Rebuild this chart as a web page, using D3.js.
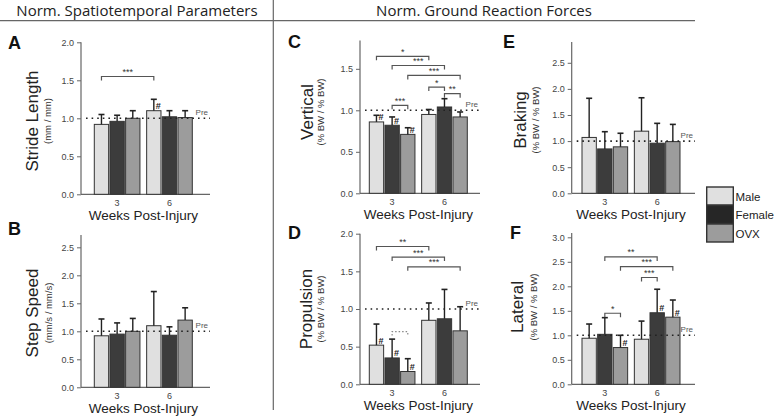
<!DOCTYPE html>
<html><head><meta charset="utf-8">
<script src="https://cdn.jsdelivr.net/npm/d3@7"></script>
<style>body{margin:0;background:#fff}svg{display:block}</style>
</head><body>
<svg id="chart" width="775" height="418"></svg>
<script>
// ---------- data ----------
const weeks = ["3", "6"];
const groupsNames = ["Male", "Female", "OVX"];
// order: Male3, Female3, OVX3, Male6, Female6, OVX6
const strideMean = [0.92, 0.96, 1.00, 1.10, 1.02, 1.01];
const strideSD   = [0.13, 0.08, 0.10, 0.15, 0.08, 0.09];
const strideHash = [0, 0, 0, 1, 0, 0];
const strideSig  = [{a:0, b:3, y:1.55, t:"***"}];

const speedMean = [0.92, 0.95, 1.00, 1.10, 0.93, 1.20];
const speedSD   = [0.30, 0.20, 0.23, 0.61, 0.15, 0.22];
const speedHash = [0, 0, 0, 0, 0, 0];
const speedSig  = [];

const vertMean = [0.86, 0.82, 0.71, 0.95, 1.04, 0.92];
const vertSD   = [0.08, 0.10, 0.08, 0.06, 0.10, 0.06];
const vertHash = [1, 1, 1, 0, 0, 0];
const vertSig  = [
  {a:0, b:3, y:1.65, t:"*"}, {a:1, b:4, y:1.54, t:"***"}, {a:2, b:5, y:1.42, t:"***"},
  {a:3, b:4, y:1.28, t:"*"}, {a:4, b:5, y:1.20, t:"**"}, {a:1, b:2, y:1.06, t:"***"}];

const propMean = [0.52, 0.35, 0.17, 0.85, 0.87, 0.71];
const propSD   = [0.28, 0.25, 0.17, 0.23, 0.39, 0.32];
const propHash = [1, 1, 1, 0, 0, 0];
const propSig  = [
  {a:0, b:3, y:1.83, t:"**"}, {a:1, b:4, y:1.69, t:"***"}, {a:2, b:5, y:1.56, t:"***"},
  {a:1, b:2, y:0.70, t:"", dotted:true}];

const brakeMean = [1.07, 0.85, 0.89, 1.19, 0.96, 0.99];
const brakeSD   = [0.75, 0.33, 0.26, 0.64, 0.38, 0.33];
const brakeHash = [0, 0, 0, 0, 0, 0];
const brakeSig  = [];

const latMean = [0.94, 1.02, 0.75, 0.92, 1.46, 1.37];
const latSD   = [0.29, 0.34, 0.25, 0.37, 0.48, 0.35];
const latHash = [0, 0, 1, 0, 1, 1];
const latSig  = [
  {a:1, b:4, y:2.60, t:"**"}, {a:2, b:5, y:2.40, t:"***"}, {a:3, b:4, y:2.18, t:"***"},
  {a:1, b:2, y:1.45, t:"*"}];

const ticksA = [0, 0.5, 1.0, 1.5, 2.0];
const ticksB = [0, 0.5, 1.0, 1.5, 2.0, 2.5];
const ticksC = [0, 0.5, 1.0, 1.5];
const ticksD = [0, 0.5, 1.0, 1.5, 2.0];
const ticksE = [0, 0.5, 1.0, 1.5, 2.0, 2.5];
const ticksF = [0, 0.5, 1.0, 1.5, 2.0, 2.5, 3.0];

const headers = ["Norm. Spatiotemporal Parameters", "Norm. Ground Reaction Forces"];
const xTitle = "Weeks Post-Injury";
const refLabel = "Pre";

// ---------- style / layout ----------
const fills = {Male:"#e0e0e0", Female:"#3c3c3c", OVX:"#9c9c9c"};
const legendFills = {Male:"#e0e0e0", Female:"#262626", OVX:"#9c9c9c"};
const FONT = "'Liberation Sans', Arial, sans-serif";

const panels = [
  {L:"A", title:"Stride Length", unit:"(mm  /  mm)", mean:strideMean, sd:strideSD, hash:strideHash, sig:strideSig, ticks:ticksA,
   yMax:2.0, bottom:194.3, top:42.3, ax:81, axEnd:210, barX:94.3, tX:38, uX:51, tY:121, lx:8, ly:49},
  {L:"B", title:"Step Speed", unit:"(mm/s  /  mm/s)", mean:speedMean, sd:speedSD, hash:speedHash, sig:speedSig, ticks:ticksB,
   yMax:2.72, bottom:387.3, top:235, ax:81, axEnd:210, barX:94.3, tX:38, uX:52, tY:313, lx:8, ly:235},
  {L:"C", title:"Vertical", unit:"(% BW  /  % BW)", mean:vertMean, sd:vertSD, hash:vertHash, sig:vertSig, ticks:ticksC,
   yMax:1.84, bottom:193.3, top:40.6, ax:360, axEnd:480, barX:369.3, tX:313, uX:324, tY:112, lx:288, ly:48},
  {L:"D", title:"Propulsion", unit:"(% BW  /  % BW)", mean:propMean, sd:propSD, hash:propHash, sig:propSig, ticks:ticksD,
   yMax:2.0, bottom:384.3, top:233.7, ax:360, axEnd:480, barX:369.3, tX:312, uX:324, tY:309, lx:288, ly:239},
  {L:"E", title:"Braking", unit:"(% BW  /  % BW)", mean:brakeMean, sd:brakeSD, hash:brakeHash, sig:brakeSig, ticks:ticksE,
   yMax:2.9, bottom:193.3, top:41.9, ax:571.7, axEnd:695, barX:582, tX:526, uX:539, tY:120, lx:503, ly:48},
  {L:"F", title:"Lateral", unit:"(% BW  /  % BW)", mean:latMean, sd:latSD, hash:latHash, sig:latSig, ticks:ticksF,
   yMax:3.09, bottom:384.3, top:232.9, ax:571.7, axEnd:695, barX:582, tX:523, uX:537, tY:307, lx:510, ly:239}
];

const svg = d3.select("#chart");

// headers and frame lines
svg.append("line").attr("x1", 0).attr("x2", 695).attr("y1", 20.7).attr("y2", 20.7)
  .attr("stroke", "#666").attr("stroke-width", 1.2);
svg.append("line").attr("x1", 273.3).attr("x2", 273.3).attr("y1", 0).attr("y2", 410)
  .attr("stroke", "#666").attr("stroke-width", 1.2);
svg.append("text").attr("x", 137).attr("y", 15.5).attr("text-anchor", "middle")
  .style("font-family", "'Open Sans', sans-serif").style("font-size", "15px").attr("fill", "#222").text(headers[0]);
svg.append("text").attr("x", 484).attr("y", 15.5).attr("text-anchor", "middle")
  .style("font-family", "'Open Sans', sans-serif").style("font-size", "15px").attr("fill", "#222").text(headers[1]);

panels.forEach(p => {
  const g = svg.append("g");
  const y = d3.scaleLinear().domain([0, p.yMax]).range([p.bottom, p.top]);
  const x0 = d3.scaleBand().domain(weeks).range([p.barX, p.barX + 98]).paddingInner(0.128).paddingOuter(0);
  const x1 = d3.scaleBand().domain(groupsNames).range([0, x0.bandwidth()]).paddingInner(0.085).paddingOuter(0);
  const rows = p.mean.map((m, i) => ({w: weeks[Math.floor(i / 3)], s: groupsNames[i % 3], m, sd: p.sd[i], h: p.hash[i]}));
  const cx = i => x0(rows[i].w) + x1(rows[i].s) + x1.bandwidth() / 2;

  // y axis
  const yAxis = d3.axisLeft(y).tickValues(p.ticks).tickFormat(d3.format(".1f")).tickSize(4).tickPadding(3);
  const ya = g.append("g").attr("transform", `translate(${p.ax},0)`).call(yAxis);
  ya.select(".domain").remove();
  ya.selectAll(".tick line").attr("stroke", "#666");
  ya.selectAll(".tick text").attr("fill", "#444").style("font-family", FONT).style("font-size", "9px");
  g.append("line").attr("x1", p.ax).attr("x2", p.ax).attr("y1", y(p.yMax)).attr("y2", p.bottom)
    .attr("stroke", "#666").attr("stroke-width", 1.2);

  // x axis
  const xAxis = d3.axisBottom(x0).tickSize(0).tickPadding(5);
  const xa = g.append("g").attr("transform", `translate(0,${p.bottom})`).call(xAxis);
  xa.select(".domain").remove();
  xa.selectAll(".tick text").attr("fill", "#444").style("font-family", FONT).style("font-size", "9px");
  g.append("line").attr("x1", p.ax).attr("x2", p.axEnd).attr("y1", p.bottom).attr("y2", p.bottom)
    .attr("stroke", "#666").attr("stroke-width", 1.2);
  g.append("text").attr("x", p.barX + 49).attr("y", p.bottom + 25.5).attr("text-anchor", "middle")
    .style("font-family", FONT).style("font-size", "13.5px").attr("fill", "#222").text(xTitle);

  // bars
  g.selectAll("rect.bar").data(rows).join("rect").attr("class", "bar")
    .attr("x", d => x0(d.w) + x1(d.s)).attr("width", x1.bandwidth())
    .attr("y", d => y(d.m)).attr("height", d => p.bottom - y(d.m))
    .attr("fill", d => fills[d.s]).attr("stroke", "#333").attr("stroke-width", 1);

  rows.forEach((d, i) => {
    const c = cx(i);
    g.append("line").attr("x1", c).attr("x2", c).attr("y1", y(d.m)).attr("y2", y(d.m + d.sd))
      .attr("stroke", "#222").attr("stroke-width", 1.4);
    g.append("line").attr("x1", c - 3).attr("x2", c + 3).attr("y1", y(d.m + d.sd)).attr("y2", y(d.m + d.sd))
      .attr("stroke", "#222").attr("stroke-width", 1.6);
    if (d.h) {
      g.append("text").attr("x", c + 2).attr("y", y(d.m) - 1.5)
        .style("font-family", FONT).style("font-size", "9px").style("font-weight", "bold").attr("fill", "#222").text("#");
    }
  });

  // reference line
  g.append("line").attr("x1", p.ax + 5).attr("x2", p.axEnd).attr("y1", y(1)).attr("y2", y(1))
    .attr("stroke", "#222").attr("stroke-width", 1.6).attr("stroke-dasharray", "1.6,4");
  g.append("text").attr("x", p.axEnd - 2).attr("y", y(1) - 3.5).attr("text-anchor", "end")
    .style("font-family", FONT).style("font-size", "8px").attr("fill", "#555").text(refLabel);

  // significance brackets
  p.sig.forEach(s => {
    const xa_ = cx(s.a), xb = cx(s.b), yy = y(s.y);
    g.append("path").attr("d", `M${xa_},${yy + 4}V${yy}H${xb}V${yy + 4}`)
      .attr("fill", "none").attr("stroke", s.dotted ? "#888" : "#555").attr("stroke-width", 1.2)
      .attr("stroke-dasharray", s.dotted ? "1.5,2" : null);
    if (s.t) g.append("text").attr("x", (xa_ + xb) / 2).attr("y", yy - 1.5).attr("text-anchor", "middle")
      .style("font-family", FONT).style("font-size", "9px").attr("fill", "#333").text(s.t);
  });

  // titles
  g.append("text").attr("transform", `translate(${p.tX},${p.tY}) rotate(-90)`).attr("text-anchor", "middle")
    .style("font-family", FONT).style("font-size", "17px").attr("fill", "#222").text(p.title);
  g.append("text").attr("transform", `translate(${p.uX},${p.tY}) rotate(-90)`).attr("text-anchor", "middle")
    .style("font-family", FONT).style("font-size", "9.5px").attr("fill", "#333").text(p.unit);
  g.append("text").attr("x", p.lx).attr("y", p.ly)
    .style("font-family", FONT).style("font-size", "18px").style("font-weight", "bold").attr("fill", "#111").text(p.L);
});

// legend
const legY = [187, 205.5, 224];
groupsNames.forEach((n, i) => {
  svg.append("rect").attr("x", 706.7).attr("y", legY[i]).attr("width", 26.6).attr("height", 18)
    .attr("fill", legendFills[n]).attr("stroke", "#333").attr("stroke-width", 1.4);
  svg.append("text").attr("x", 735.5).attr("y", legY[i] + 13.5)
    .style("font-family", FONT).style("font-size", "11.5px").attr("fill", "#222").text(n);
});
</script>
</body></html>
